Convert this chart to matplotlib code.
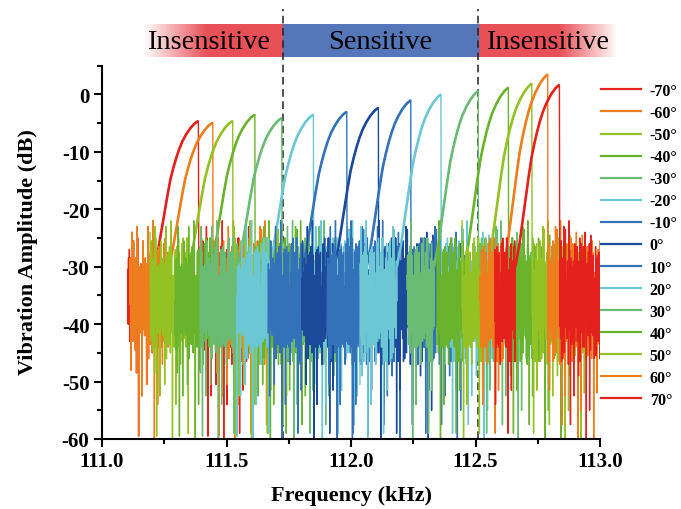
import numpy as np
import matplotlib.pyplot as plt
from matplotlib.ticker import MultipleLocator, FormatStrFormatter

plt.rcParams['font.family'] = ['Liberation Serif', 'DejaVu Serif']
plt.rcParams['font.weight'] = 'bold'
plt.rcParams['axes.unicode_minus'] = False

# series (incidence angle)
angles = [-70, -60, -50, -40, -30, -20, -10, 0, 10, 20, 30, 40, 50, 60, 70]
colors = ['#e4211c', '#ee7d1e', '#94c123', '#6ab42d', '#6abb74', '#6cc7d5', '#3372b8', '#1b4a9a',
          '#3372b8', '#6cc7d5', '#6abb74', '#6ab42d', '#94c123', '#ee7d1e', '#e4211c']

# resonance peak (where the curve jumps down) and its level
peak_khz = [111.387, 111.445, 111.525, 111.614, 111.722, 111.849, 111.983, 112.110,
            112.240, 112.361, 112.511, 112.632, 112.726, 112.790, 112.837]
peak_db = [-4.6, -4.9, -4.6, -3.5, -4.1, -3.5, -3.0, -2.3, -1.0, 0.0, 0.6, 1.2, 1.9, 3.5, 1.7]
# where each sweep starts
start_khz = [111.104, 111.112, 111.193, 111.293, 111.394, 111.542, 111.667, 111.803,
             111.904, 112.036, 112.225, 112.345, 112.446, 112.518, 112.578]
after_peak = 0.22      # sweep keeps going this far past the jump
step = 0.0012          # sweep step (kHz)

# shape of the rising branch: offset before the peak (kHz), fraction of the rise
rise_dx = [-0.177, -0.161, -0.149, -0.137, -0.124, -0.112, -0.100, -0.088, -0.076,
           -0.064, -0.048, -0.032, -0.016, 0.0]
rise_frac = [0.0, 0.12, 0.24, 0.36, 0.49, 0.60, 0.68, 0.75, 0.81, 0.86, 0.91, 0.95, 0.98, 1.0]
rise_base = -30

# noise floor, read roughly off the bands (dB around the floor level)
noise_db = -36
noise_a = [4, -3, 7, -6, 2, 9, -8, 1, 5, -2, -12, 6, 3, -5, 11, -1, -9, 4, 0, 10, -4, 2, -6,
           6, -7, 3, 8, -2, 5, -10, 1, 12, -3, 9, -6, 2, -24, 4, -1, 6, -5, 3, -8, 7, 0,
           -4, 8, -17, 2, 5, -7, 9, -3]
noise_b = [1.5, -1, 0.5, 2, -2, 0, 1, -1.5, 2.5, -0.5, 0, 1.5, -2.5, 0.5, 1, -1, 2]


def floor(n, shift):
    na = np.array(noise_a)
    nb = np.array(noise_b)
    idx = np.arange(n) + shift
    return noise_db + na[idx % len(na)] + nb[idx % len(nb)]


fig = plt.figure(figsize=(6.81, 5.10), dpi=100)
ax = fig.add_axes([102 / 681, 70 / 510, 498 / 681, 373.3 / 510])

for i, a in enumerate(angles):
    pk = peak_khz[i]
    f_pre = np.arange(start_khz[i], pk + rise_dx[0], step)
    f_rise = pk + np.array(rise_dx)
    y_rise = rise_base + np.array(rise_frac) * (peak_db[i] - rise_base)
    f_post = np.arange(pk + step, pk + after_peak, step)
    f = np.concatenate([f_pre, f_rise, f_post])
    y = np.concatenate([floor(len(f_pre), i * 7), y_rise, floor(len(f_post), i * 11 + 5)])
    ax.plot(f, y, color=colors[i], lw=1.0, label=f'{a}°', zorder=2 + i * 0.01)
    ax.plot(f_rise, y_rise, color=colors[i], lw=1.9, zorder=2 + i * 0.01,
            solid_capstyle='butt')

ax.set_xlim(111.0, 113.0)
ax.set_ylim(-60, 5)
ax.xaxis.set_major_locator(MultipleLocator(0.5))
ax.xaxis.set_minor_locator(MultipleLocator(0.25))
ax.xaxis.set_major_formatter(FormatStrFormatter('%.1f'))
ax.yaxis.set_major_locator(MultipleLocator(10))
ax.yaxis.set_minor_locator(MultipleLocator(5))
ax.set_yticks(range(-60, 1, 10))
for s in ['top', 'right']:
    ax.spines[s].set_visible(False)
for s in ['left', 'bottom']:
    ax.spines[s].set_linewidth(1.5)
ax.tick_params(which='major', direction='out', length=6, width=1.5, labelsize=15, pad=3)
ax.tick_params(which='minor', direction='out', length=3.5, width=1.5)
ax.set_xlabel('Frequency (kHz)', fontsize=16, fontweight='bold')
ax.set_ylabel('Vibration Amplitude (dB)', fontsize=16, fontweight='bold')
ax.xaxis.set_label_coords(0.502, -0.124)
ax.yaxis.set_label_coords(-0.128, 0.504)

# region boundaries
for xb in [111.727, 112.510]:
    ax.plot([xb, xb], [-60, 14.8], ls=(0, (5, 3)), color='#222222', lw=1.1,
            clip_on=False, zorder=1)

# banner of sensitive / insensitive regions
bax = fig.add_axes([143 / 681, (510 - 58) / 510, 475 / 681, 33 / 510])
red = np.array([232, 80, 88]) / 255
ramp_in = np.clip(np.linspace(0, 2.2, 200), 0, 1)
ramp_out = np.clip(np.linspace(2.4, 0, 200), 0, 1)
img_l = np.zeros((1, 200, 4)); img_l[..., :3] = red; img_l[0, :, 3] = ramp_in
img_r = np.zeros((1, 200, 4)); img_r[..., :3] = red; img_r[0, :, 3] = ramp_out
bax.imshow(img_l, extent=(111.165, 111.727, 0, 1), aspect='auto', interpolation='bilinear')
bax.imshow(img_r, extent=(112.510, 113.072, 0, 1), aspect='auto', interpolation='bilinear')
bax.axvspan(111.727, 112.510, color='#5576b9')
bax.set_xlim(111.165, 113.072)
bax.set_ylim(0, 1)
bax.axis('off')
bax.text(111.43, 0.46, 'Insensitive', ha='center', va='center', fontsize=20.5, fontweight='normal')
bax.text(112.118, 0.46, 'Sensitive', ha='center', va='center', fontsize=20.5, fontweight='normal')
bax.text(112.79, 0.46, 'Insensitive', ha='center', va='center', fontsize=20.5, fontweight='normal')
ax.set_zorder(2)
bax.set_zorder(1)
ax.patch.set_alpha(0)

h, l = ax.get_legend_handles_labels()
leg = fig.legend(h, l, loc='upper left', bbox_to_anchor=(601 / 681, (510 - 84) / 510),
                 frameon=False, fontsize=11.5, handlelength=2.5, handletextpad=0.55,
                 labelspacing=0.38, borderpad=0, borderaxespad=0)
for ln in leg.get_lines():
    ln.set_linewidth(1.6)

fig.savefig('out.png', dpi=100)
